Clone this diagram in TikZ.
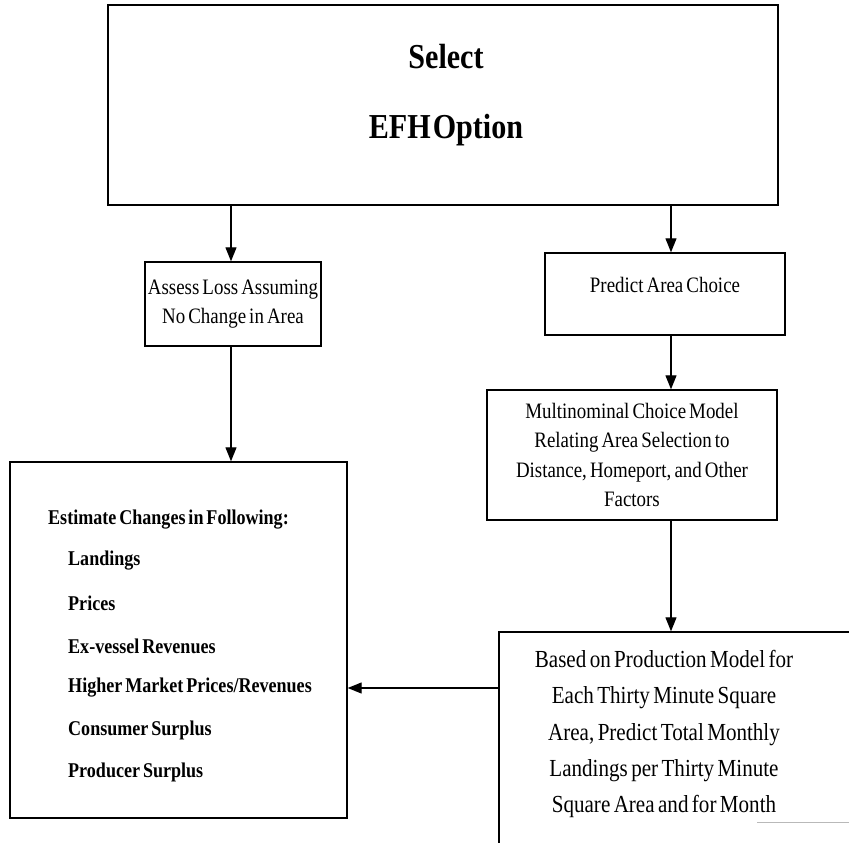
\documentclass[tikz,border=0pt]{standalone}
\usepackage{fontspec}
\setmainfont{Liberation Serif}[FakeStretch=0.86,WordSpace=0.65]
\usetikzlibrary{arrows.meta,calc}
\begin{document}
\begin{tikzpicture}[x=1pt,y=-1pt,
  box/.style={draw,line width=1.4pt,rectangle,inner sep=0pt,align=center},
  arr/.style={line width=1.2pt,-{Triangle[length=14pt,width=11pt]}},
  txt/.style={font=\fontsize{22}{29.5}\selectfont,align=center,inner sep=0pt},
  big/.style={font=\bfseries\fontsize{35}{40}\selectfont,inner sep=0pt},
  item/.style={font=\bfseries\fontsize{21}{22}\selectfont,anchor=west,inner sep=0pt}]
\useasboundingbox[fill=white] (0,0) rectangle (849,843);

% top box
\node[box,line width=1.8pt,minimum width=670pt,minimum height=200pt] (sel) at (443,105) {};
\node[big] (selA) at (446,57) {Select};
\node[big] (selB) at (446,130) {EFH\hspace{2pt}Option};

% left branch
\node[box,txt,minimum width=176pt,minimum height=84pt] (assess) at (233,304)
  {Assess Loss Assuming\\No Change in Area};

\node[box,minimum width=337pt,minimum height=356pt] (effects) at (178.5,640) {};
\node[item] (t0) at (48,520) {Estimate Changes in Following:};
\node[item] (t1) at (68,561) {Landings};
\node[item] (t2) at (68,603) {Prices};
\node[item] (t3) at (68,646) {Ex-vessel Revenues};
\node[item] (t4) at (68,688) {Higher Market Prices/Revenues};
\node[item] (t5) at (68,730) {Consumer Surplus};
\node[item] (t6) at (68,772) {Producer Surplus};

% right branch
\node[box,minimum width=240pt,minimum height=82pt] (predict) at (665,294) {};
\node[txt] (ptext) at (665,285) {Predict Area Choice};

\node[box,txt,minimum width=290pt,minimum height=130pt] (model) at (632,455)
  {Multinominal Choice Model\\Relating Area Selection to\\Distance, Homeport, and Other\\Factors};

\node[box,minimum width=400pt,minimum height=300pt] (prodbox) at (699,782) {};
\node[txt,font=\fontsize{24.5}{36.2}\selectfont] (prodtext) at (664,734)
  {Based on Production Model for\\Each Thirty Minute Square\\Area, Predict Total Monthly\\Landings per Thirty Minute\\Square Area and for Month};
\draw[gray!55,line width=0.8pt] (757,822) -- (849,822);

% connectors
\coordinate (la) at (231,0);
\coordinate (ra) at (671,0);
\draw[arr] (sel.south -| la) -- (assess.north -| la);
\draw[arr] (assess.south -| la) -- (effects.north -| la);
\draw[arr] (sel.south -| ra) -- (predict.north -| ra);
\draw[arr] (predict.south -| ra) -- (model.north -| ra);
\draw[arr] (model.south -| ra) -- (prodbox.north -| ra);
\coordinate (fb) at (prodbox.west |- t4.center);
\draw[arr] (fb) -- (fb -| effects.east);
\end{tikzpicture}
\end{document}
